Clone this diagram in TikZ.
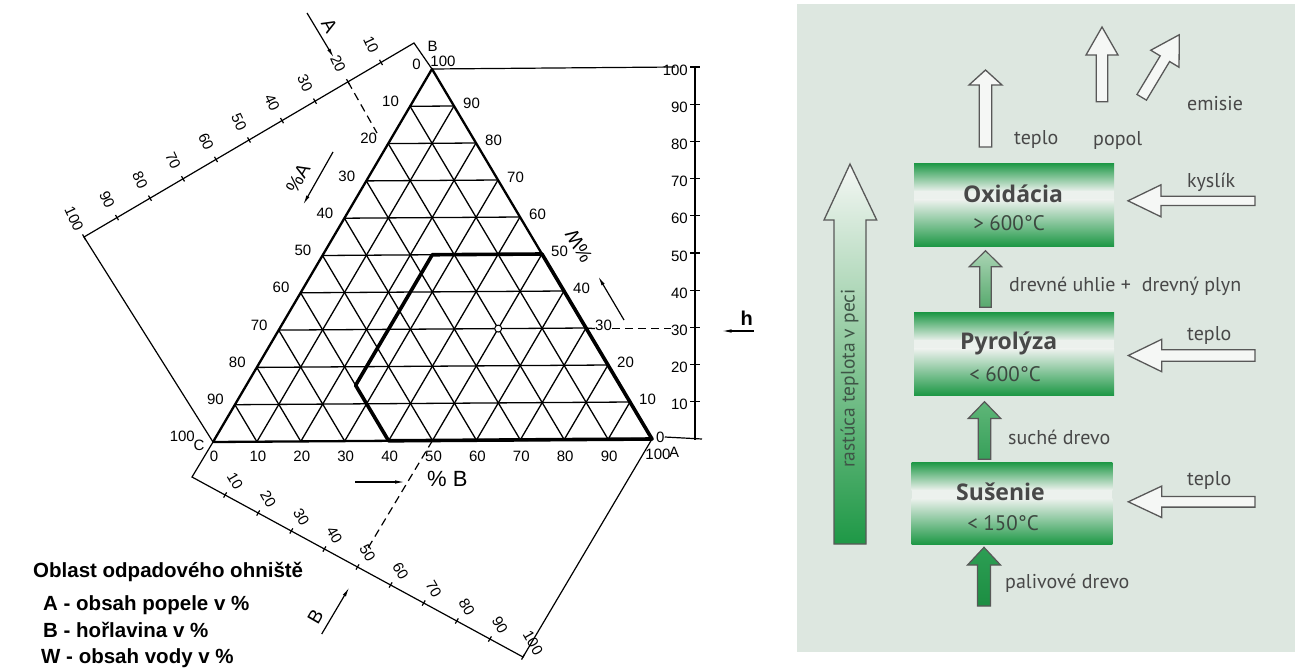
\documentclass[tikz,border=0pt]{standalone}
\usepackage{fontspec}
\usetikzlibrary{arrows.meta,calc}
\newfontfamily\chartfont{Liberation Sans}
\newfontfamily\flowfont{PT Sans}
\newfontfamily\titlefont{Open Sans}
\definecolor{panelbg}{RGB}{221,231,224}
\definecolor{boxgreen}{RGB}{30,152,70}
\definecolor{bandcol}{RGB}{236,241,237}
\definecolor{txtgray}{RGB}{72,72,72}
\definecolor{tempgray}{RGB}{60,72,64}
\definecolor{risetext}{RGB}{62,84,70}
\definecolor{arrgray}{RGB}{88,88,88}
\definecolor{arrfill}{RGB}{245,247,245}
\definecolor{risemid}{RGB}{140,200,155}
\definecolor{gaone}{RGB}{170,212,180}
\definecolor{gatwo}{RGB}{88,170,110}
\definecolor{gbone}{RGB}{95,182,120}
\definecolor{gbtwo}{RGB}{55,160,90}
\definecolor{gcone}{RGB}{45,158,84}
\definecolor{gctwo}{RGB}{28,142,66}
\tikzset{
  gridline/.style={line width=1.3pt},
  frameline/.style={line width=2.3pt,line join=round},
  regionline/.style={line width=3.6pt,line join=round},
  scaleline/.style={line width=1.2pt},
  dashline/.style={line width=1.2pt,dash pattern=on 8pt off 5pt},
  num/.style={font=\chartfont\fontsize{15}{15}\selectfont,inner sep=0pt},
  bignum/.style={font=\chartfont\fontsize{19}{19}\selectfont,inner sep=0pt},
  pointer/.style={line width=1.2pt,-{Latex[length=10pt,width=3.5pt]}},
  leg/.style={font=\chartfont\bfseries\fontsize{20.5}{20.5}\selectfont,inner sep=0pt,anchor=base west},
  flow/.style={font=\flowfont\fontsize{20}{20}\selectfont,text=txtgray,inner sep=0pt,anchor=base west},
  boxtitle/.style={font=\titlefont\bfseries\fontsize{23}{23}\selectfont,text=txtgray,inner sep=0pt,anchor=base},
  temp/.style={font=\flowfont\fontsize{21}{21}\selectfont,text=tempgray,inner sep=0pt,anchor=base},
  whitearrow/.style={fill=arrfill,draw=arrgray,line width=1.3pt,line join=miter},
  greenarrow/.style={draw=arrgray,line width=1.2pt,line join=miter},
}
\newcommand\tp[2]{({213+439*(#1)+219*(#2)},{442-3*(#1)-373*(#2)})}
% up arrow: style, cx, ybottom, ytip, half shaft, half head, head length
\newcommand\uparr[7]{\path[#1] ({#2-#5},#3) -- ({#2-#5},{#4+#7}) -- ({#2-#6},{#4+#7}) -- (#2,#4) -- ({#2+#6},{#4+#7}) -- ({#2+#5},{#4+#7}) -- ({#2+#5},#3) -- cycle;}
% left arrow: style, xtip, xtail, cy, half shaft, half head, head length
\newcommand\leftarr[7]{\path[#1] (#3,{#4-#5}) -- ({#2+#7},{#4-#5}) -- ({#2+#7},{#4-#6}) -- (#2,#4) -- ({#2+#7},{#4+#6}) -- ({#2+#7},{#4+#5}) -- (#3,{#4+#5}) -- cycle;}
% green box: name, x1, y1, x2, y2
\newcommand\greenbox[5]{%
  \pgfmathsetmacro\gbm{#3+0.34*(#5-#3)}%
  \pgfmathsetmacro\gbn{#3+0.44*(#5-#3)}%
  \shade[top color=boxgreen,bottom color=bandcol] (#2,#3) rectangle (#4,\gbm);
  \fill[bandcol] (#2,{\gbm-0.3}) rectangle (#4,{\gbn+0.3});
  \shade[top color=bandcol,bottom color=boxgreen] (#2,\gbn) rectangle (#4,#5);
  \coordinate (#1) at ({(#2+#4)/2},{(#3+#5)/2});}
\begin{document}
\begin{tikzpicture}[x=1pt,y=-1pt]
\useasboundingbox (0,0) rectangle (1295,669);
\fill[white] (0,0) rectangle (1295,669);

%% ---------------- left: triangle chart ----------------
\coordinate (C) at (213,442);
\coordinate (A) at (652,439);
\coordinate (B) at (432,69);

\foreach \i in {1,...,9}{
  \pgfmathsetmacro\k{\i/10}
  \draw[gridline] \tp{0}{\k} -- \tp{1-\k}{\k};
  \draw[gridline] \tp{\k}{0} -- \tp{\k}{1-\k};
  \draw[gridline] \tp{\k}{0} -- \tp{0}{\k};
}
\draw[frameline] (C) -- (A) -- (B) -- cycle;
\draw[regionline] \tp{0.4}{0} -- \tp{0.25}{0.15} -- \tp{0.25}{0.5} -- \tp{0.5}{0.5} -- (A) -- cycle;
\node[circle,draw,fill=white,line width=1pt,inner sep=0pt,minimum size=7pt] (pt) at \tp{0.5}{0.3} {};

% side labels
\foreach \v in {10,20,...,90}{
  \pgfmathsetmacro\lx{432-2.19*\v-11}\pgfmathsetmacro\ly{69+3.73*\v-5}
  \node[num,anchor=east] (lft\v) at (\lx,\ly) {\v};
  \pgfmathsetmacro\rx{652-2.2*\v+9}\pgfmathsetmacro\ry{439-3.7*\v-3}
  \node[num,anchor=west] (rgt\v) at (\rx,\ry) {\v};
}
\foreach \v in {0,10,...,90}{
  \pgfmathsetmacro\bx{214+4.39*\v}
  \node[num] (bot\v) at (\bx,456) {\v};
}
\node[num,anchor=east] (lft0) at (421,64) {0};
\node[num,anchor=east] (lft100) at (195,436) {100};
\node[num] (vC) at (199,445) {C};
\node[num] (rgt100) at (443,61) {100};
\node[num] (vB) at (432.5,46) {B};
\node[num,anchor=west] (rgt0) at (656,437) {0};
\node[num] (bot100) at (658,454) {100};
\node[num] (vA) at (674,452) {A};

% right scale
\coordinate (RsT) at (695,66);
\coordinate (RsB) at (695,440);
\coordinate (Btop) at (675,67);
\coordinate (RsE) at (702,439);
\draw[scaleline] (RsT) -- (RsB);
\draw[scaleline] (B) -- (Btop);
\draw[scaleline] (rgt0.east) -- (RsE);
\foreach \k in {1,...,10}{
  \pgfmathsetmacro\ty{439-37.2*\k}
  \draw[scaleline] (690,\ty) -- (700,\ty);
}
\foreach \v in {10,20,...,100}{
  \pgfmathsetmacro\sy{439-3.72*\v+3}
  \node[num,anchor=east] (sc\v) at (688,\sy) {\v};
}
\draw[gridline] \tp{0.7}{0.3} -- (rgt30.west |- pt);
\draw[dashline] (rgt30.east |- pt) -- (sc30.west |- pt);

% A scale
\coordinate (AsB) at (414,43);
\coordinate (AsC) at (84,237);
\draw[scaleline] (B) -- (AsB) -- (AsC) -- (C);
\foreach \i in {1,...,10}{
  \pgfmathsetmacro\ax{414-33*\i}\pgfmathsetmacro\ay{43+19.4*\i}
  \draw[scaleline] ({\ax-1.5},{\ay-2.6}) -- ({\ax+1.5},{\ay+2.6});
  \node[num,rotate=-65] (as\i) at ({\ax-10},{\ay-18}) {\the\numexpr\i*10\relax};
}
\coordinate (AdOne) at (348,81.8);
\coordinate (AdTwo) at (377,133);
\draw[dashline] (AdOne) -- (AdTwo);

% B scale
\coordinate (BsC) at (192,477);
\coordinate (BsA) at (523,657);
\draw[scaleline] (C) -- (BsC) -- (BsA) -- (A);
\foreach \i in {1,...,10}{
  \pgfmathsetmacro\bx{192+33.1*\i}\pgfmathsetmacro\by{477+18*\i}
  \draw[scaleline] ({\bx+1.5},{\by-2.6}) -- ({\bx-1.5},{\by+2.6});
  \node[num,rotate=-60] (bs\i) at ({\bx+10},{\by-14}) {\the\numexpr\i*10\relax};
}
\coordinate (BdTwo) at (368,548);
\draw[dashline] \tp{0.5}{0} -- (BdTwo);

% axis labels and pointers
\node[bignum,rotate=-60] (lblA) at (329.5,25.5) {A};
\coordinate (pAa) at (307,13); \coordinate (pAb) at (334,58);
\draw[pointer] (pAa) -- (pAb);
\node[bignum,rotate=60] (pctA) at (298,178) {\%A};
\coordinate (pPa) at (333,152); \coordinate (pPb) at (303,205);
\draw[pointer] (pPa) -- (pPb);
\node[bignum,rotate=120] (pctW) at (579,246) {\%W};
\coordinate (pWa) at (624,320); \coordinate (pWb) at (598,276);
\draw[pointer] (pWa) -- (pWb);
\node[font=\chartfont\fontsize{22}{22}\selectfont,inner sep=0pt,anchor=base west] (pctB) at (427,486.5) {\% B};
\coordinate (pBa) at (355,482); \coordinate (pBb) at (405,482);
\draw[pointer] (pBa) -- (pBb);
\node[bignum,rotate=60] (lblB) at (315.5,617) {B};
\coordinate (pLa) at (321.7,634); \coordinate (pLb) at (349.5,587);
\draw[pointer] (pLa) -- (pLb);
\node[font=\chartfont\bfseries\fontsize{20}{20}\selectfont,inner sep=0pt,anchor=base] (lblh) at (746.7,325) {h};
\coordinate (pHa) at (753.5,331); \coordinate (pHb) at (721.5,331);
\draw[pointer] (pHa) -- (pHb);

% legend
\node[leg] (lg0) at (33,577) {Oblast odpadového ohniště};
\node[leg] (lg1) at (43,610) {A - obsah popele v \%};
\node[leg] (lg2) at (43,637) {B - hořlavina v \%};
\node[leg] (lg3) at (41,663) {W - obsah vody v \%};

%% ---------------- right: process panel ----------------
\fill[panelbg] (797,4) rectangle (1295,652);

\greenbox{ox}{914}{163.3}{1114}{246}
\greenbox{py}{914}{312.7}{1114}{395}
\greenbox{su}{911.7}{462.3}{1112.3}{544}

\node[boxtitle] (oxt) at (1013,202) {Oxidácia};
\node[temp] (oxc) at (1009,230) {> 600°C};
\node[boxtitle] (pyt) at (1008.7,349.5) {Pyrolýza};
\node[temp] (pyc) at (1005,381) {< 600°C};
\node[boxtitle] (sut) at (1000.5,500) {Sušenie};
\node[temp] (suc) at (1003,530) {< 150°C};

% rising temperature arrow
\path[draw=arrgray,line width=1.3pt,line join=miter,top color=arrfill,bottom color=boxgreen,middle color=risemid]
  (834,544) -- (834,220) -- (824,220) -- (850,164) -- (876.7,220) -- (866,220) -- (866,544) -- cycle;
\node[font=\flowfont\fontsize{19.5}{19.5}\selectfont,text=risetext,inner sep=0pt,rotate=90] (rise) at (849.5,378.5) {rastúca teplota v peci};

% white arrows
\uparr{whitearrow}{985.5}{147}{70}{6.2}{16.5}{15}
\uparr{whitearrow}{1102}{101.7}{27}{5.7}{16}{28}
\begin{scope}[shift={(1141.7,97.3)},rotate=59]
  \path[whitearrow] (0,-5.5) -- (45,-5.5) -- (45,-16.5) -- (73,0) -- (45,16.5) -- (45,5.5) -- (0,5.5) -- cycle;
\end{scope}
\leftarr{whitearrow}{1128}{1255}{200.8}{4.6}{16}{33}
\leftarr{whitearrow}{1128.3}{1255}{355.5}{5.8}{16.2}{33.4}
\leftarr{whitearrow}{1128.3}{1255}{501.8}{5.3}{15.7}{33.4}

% green arrows
\uparr{greenarrow,top color=gaone,bottom color=gatwo}{985.5}{307.3}{250.7}{5.7}{16.2}{16}
\uparr{greenarrow,top color=gbone,bottom color=gbtwo}{984.5}{459.3}{401.7}{6.2}{16.2}{16.7}
\uparr{greenarrow,top color=gcone,bottom color=gctwo}{984}{606}{547.3}{6.5}{16.5}{17.7}

% flow labels
\node[flow] (fteplo) at (1014,144.4) {teplo};
\node[flow] (fpopol) at (1093,145) {popol};
\node[flow] (femisie) at (1187,110) {emisie};
\node[flow] (fkyslik) at (1187,187) {kyslík};
\node[flow] (fuhlie) at (1009,291) {drevné uhlie +\ \ drevný plyn};
\node[flow] (fteplob) at (1187,340) {teplo};
\node[flow] (fsuche) at (1008,444) {suché drevo};
\node[flow] (fteploc) at (1187,485) {teplo};
\node[flow] (fpaliv) at (1005,588) {palivové drevo};
\end{tikzpicture}
\end{document}
